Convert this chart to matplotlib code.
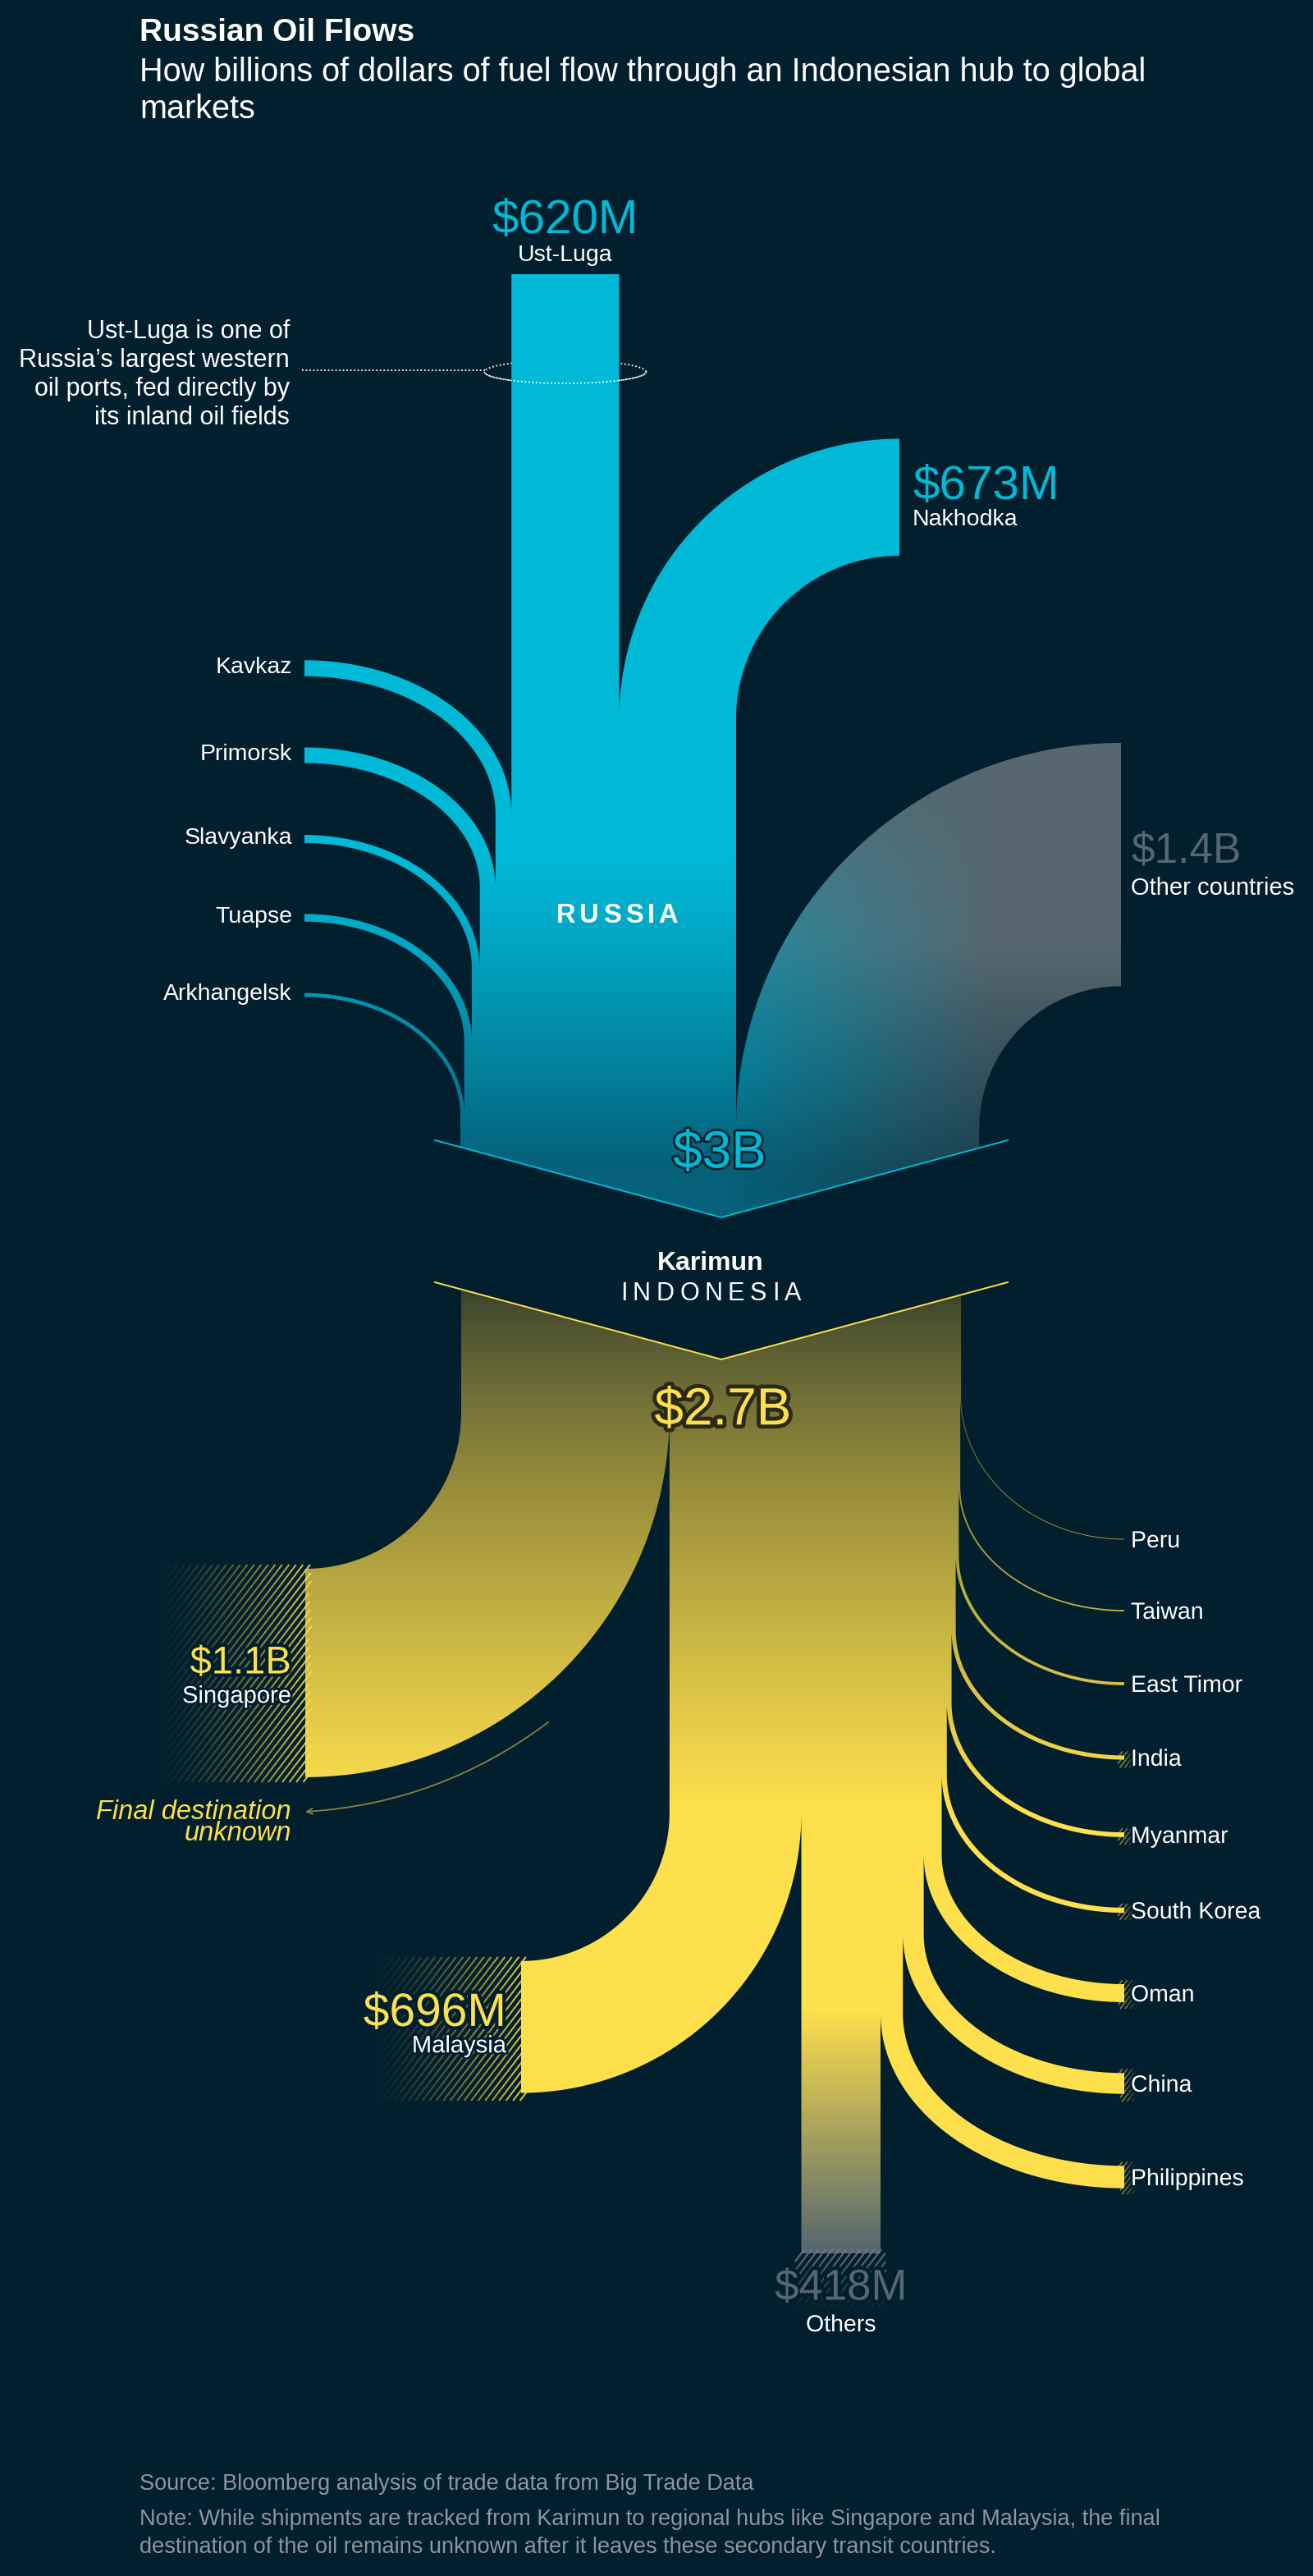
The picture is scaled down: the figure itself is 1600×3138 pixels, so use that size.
import numpy as np
import matplotlib
matplotlib.use("Agg")
import matplotlib.pyplot as plt
import matplotlib.colors as mcolors
import matplotlib.patheffects as pe
from matplotlib.path import Path
from matplotlib.patches import PathPatch, Ellipse, Arc, Rectangle
from matplotlib.collections import LineCollection
from matplotlib.font_manager import FontProperties
from matplotlib.textpath import TextToPath

plt.rcParams['font.family'] = ['Liberation Sans', 'DejaVu Sans']

# ---- data, $M ----
ust_luga = 620
nakhodka = 673
ports = ['Kavkaz', 'Primorsk', 'Slavyanka', 'Tuapse', 'Arkhangelsk']
port_values = [92, 90, 46, 44, 22]
other_countries = 1400
karimun_in = 3000
karimun_out = 2700

hubs = ['Singapore', 'Malaysia']
hub_values = [1100, 696]
others_value = 418
destinations = ['Peru', 'Taiwan', 'East Timor', 'India', 'Myanmar',
                'South Korea', 'Oman', 'China', 'Philippines']
dest_values = [4, 8, 16, 22, 25, 27, 95, 110, 118]

# ---- layout, pixels ----
W, H = 1600, 3138
BG = '#021f2e'
CYAN = '#00b9d7'
DEEP = '#05607a'
YELLOW = '#fedf4c'
OLIVE = '#1e2d28'
SLATE = '#56676f'
GREY = '#8d969c'

top_scale = 0.2117
bot_scale = 0.2308
trunk_left = 561
V_LEFT, V_MID, V_SIDE, V_TIP = 530, 879, 1389, 1483
DROP = 173

port_x = 371
port_y = [814, 920, 1022, 1118, 1212]
port_turn = [992, 1081, 1180, 1269, 1358]
ust_top = 334
nak_x, nak_turn = 1096, 876
oth_x, oth_turn = 1366, 1374
hub_x = [372, 635]
hub_turn = [1721, 2208]
others_end = 2745
dest_x = 1370
dest_y = [1875, 1962, 2051, 2141, 2235, 2327, 2428, 2538, 2652]
dest_turn = [1700, 1811, 1895, 1986, 2074, 2162, 2259, 2356, 2453]


def money(v):
    if v >= 1000:
        s = ('%.1f' % (v / 1000)).rstrip('0').rstrip('.')
        return '$' + s + 'B'
    return '$%dM' % v


def vee(x, drop):
    return V_TIP + drop - (V_TIP - V_SIDE) * abs(x - V_MID) / (V_MID - V_LEFT)


def vee_edge(xa, xb, drop):
    pts = [(xa, vee(xa, drop))]
    if min(xa, xb) < V_MID < max(xa, xb):
        pts.append((V_MID, vee(V_MID, drop)))
    pts.append((xb, vee(xb, drop)))
    return pts


def quarter(xv, y0, xe, yh, n=120):
    th = np.linspace(0, np.pi / 2, n)
    return list(zip(xe - (xe - xv) * np.cos(th), y0 + (yh - y0) * np.sin(th)))


def ribbon(xl, xr, y0, xe, yc, drop):
    w = xr - xl
    ya, yb = yc - w / 2, yc + w / 2
    near_y, far_y = (ya, yb) if abs(ya - y0) < abs(yb - y0) else (yb, ya)
    if abs(xe - xl) < abs(xe - xr):
        yl, yr = near_y, far_y
    else:
        yl, yr = far_y, near_y
    cl = quarter(xl, y0, xe, yl)
    cr = quarter(xr, y0, xe, yr)
    return cl[::-1] + [(xl, y0)] + vee_edge(xl, xr, drop) + [(xr, y0)] + cr


def bar(xl, xr, yend, drop):
    return [(xl, yend)] + vee_edge(xl, xr, drop) + [(xr, yend)]


def to_path(pts):
    p = np.array(pts)
    area = np.sum(p[:, 0] * np.roll(p[:, 1], -1) - np.roll(p[:, 0], -1) * p[:, 1])
    if area < 0:
        p = p[::-1]
    verts = np.vstack([p, p[:1]])
    codes = [Path.MOVETO] + [Path.LINETO] * (len(p) - 1) + [Path.CLOSEPOLY]
    return Path(verts, codes)


def rgb(c):
    return np.array(mcolors.to_rgb(c))


def mix(a, b, t):
    t = t[..., None]
    return a * (1 - t) + b * t


def grid(x0, x1, y0, y1):
    xs = np.arange(x0, x1) + 0.5
    ys = np.arange(y0, y1) + 0.5
    return np.meshgrid(xs, ys)


def fill(ax, paths, img, extent):
    comp = Path.make_compound_path(*paths)
    im = ax.imshow(img, extent=extent, origin='upper', interpolation='bilinear',
                   aspect='auto', zorder=1)
    im.set_clip_path(PathPatch(comp, transform=ax.transData))


def hatch(ax, x0, x1, y0, y1, color, alpha_of, step=8.5, slope=1.3, lw=1.5, seg=5.0):
    base = mcolors.to_rgb(color)
    segs, cols = [], []
    ys = np.arange(y0 - seg, y1 + 2 * seg, seg)
    for c in np.arange(y0 + slope * x0 - step * slope, y1 + slope * x1 + step * slope, step * slope):
        xs = (c - ys) / slope
        for k in range(len(ys) - 1):
            xm = (xs[k] + xs[k + 1]) / 2
            ym = (ys[k] + ys[k + 1]) / 2
            if xm < x0 - 6 or xm > x1 + 6:
                continue
            a = alpha_of(xm, ym)
            if a <= 0.01:
                continue
            segs.append([(xs[k], ys[k]), (xs[k + 1], ys[k + 1])])
            cols.append((base[0], base[1], base[2], a))
    lc = LineCollection(segs, colors=cols, linewidths=lw, zorder=2, capstyle='butt')
    lc.set_clip_path(Rectangle((x0, y0), x1 - x0, y1 - y0, transform=ax.transData))
    ax.add_collection(lc)


fig = plt.figure(figsize=(16, 31.38), dpi=100, facecolor=BG)
ax = fig.add_axes([0, 0, 1, 1])
ax.set_facecolor(BG)


def txt(x, y, s, size, **kw):
    # y is the visual centre of the capitals
    return ax.text(x, y + 0.35 * size * 100 / 72, s, fontsize=size, va='baseline', **kw)


def spaced(xc, y, s, size, track, **kw):
    fp = FontProperties(family='Liberation Sans', size=size, weight=kw.get('fontweight', 'normal'))
    ttp = TextToPath()
    ws = [ttp.get_text_width_height_descent(ch, fp, ismath=False)[0] * 100 / 72 for ch in s]
    total = sum(ws) + track * (len(s) - 1)
    x = xc - total / 2
    for ch, w in zip(s, ws):
        txt(x, y, ch, size, ha='left', **kw)
        x += w + track


glow = [pe.withStroke(linewidth=6, foreground=BG)]
soft = [pe.withStroke(linewidth=4, foreground=BG)]

# ---- top section: Russia and other countries ----
x = trunk_left
port_edges = [None] * len(ports)
for i in reversed(range(len(ports))):
    w = port_values[i] * top_scale
    port_edges[i] = (x, x + w)
    x += w
ust = (x, x + ust_luga * top_scale)
nak = (ust[1], ust[1] + nakhodka * top_scale)
oth = (nak[1], nak[1] + other_countries * top_scale)

russia_paths = []
for i in range(len(ports)):
    xl, xr = port_edges[i]
    russia_paths.append(to_path(ribbon(xl, xr, port_turn[i], port_x, port_y[i], 0)))
russia_paths.append(to_path(bar(ust[0], ust[1], ust_top, 0)))
w = nak[1] - nak[0]
nak_y = nak_turn - (nak_x - nak[1]) - w / 2
russia_paths.append(to_path(ribbon(nak[0], nak[1], nak_turn, nak_x, nak_y, 0)))

w = oth[1] - oth[0]
oth_y = oth_turn - (oth_x - oth[1]) - w / 2
oth_path = to_path(ribbon(oth[0], oth[1], oth_turn, oth_x, oth_y, 0))


def russia_colour(Y):
    t = np.clip((Y - 1040) / 380, 0, 1) ** 1.2
    return mix(rgb(CYAN), rgb(DEEP), t)


X, Y = grid(340, 1120, 320, 1495)
fill(ax, russia_paths, russia_colour(Y), (340, 1120, 1495, 320))

X, Y = grid(880, 1385, 880, 1495)
m = np.clip((1210 - X) / 330, 0, 1) * np.clip((Y - 930) / 380, 0, 1)
slate_y = mix(rgb(SLATE), rgb('#173b48'), np.clip((Y - 1150) / 300, 0, 1))
other_img = slate_y * (1 - m[..., None]) + russia_colour(Y) * m[..., None]
fill(ax, [oth_path], other_img, (880, 1385, 1495, 880))

ax.plot([V_LEFT, V_MID, 2 * V_MID - V_LEFT], [V_SIDE, V_TIP, V_SIDE], color=CYAN, lw=1.4, zorder=3)

# ---- bottom section: Karimun outflows ----
x = trunk_left + 1
hub_edges = []
for v in hub_values:
    hub_edges.append((x, x + v * bot_scale))
    x += v * bot_scale
oth_b = (x, x + others_value * bot_scale)
x = oth_b[1]
dest_edges = [None] * len(destinations)
for i in reversed(range(len(destinations))):
    w = dest_values[i] * bot_scale
    dest_edges[i] = (x, x + w)
    x += w

bottom_paths = []
hub_y = []
for i in range(len(hubs)):
    xl, xr = hub_edges[i]
    yc = hub_turn[i] + (xl - hub_x[i]) + (xr - xl) / 2
    hub_y.append(yc)
    bottom_paths.append(to_path(ribbon(xl, xr, hub_turn[i], hub_x[i], yc, DROP)))
bottom_paths.append(to_path(bar(oth_b[0], oth_b[1], others_end, DROP)))
for i in range(len(destinations)):
    xl, xr = dest_edges[i]
    bottom_paths.append(to_path(ribbon(xl, xr, dest_turn[i], dest_x, dest_y[i], DROP)))

X, Y = grid(360, 1395, 1550, 2760)
t = np.clip((Y - 1540) / 660, 0, 1) ** 0.7
bot_img = mix(rgb(OLIVE), rgb(YELLOW), t)
u = np.clip((Y - 2450) / 290, 0, 1) * ((X >= oth_b[0] - 1) & (X <= oth_b[1] + 1))
bot_img = mix(bot_img, rgb(SLATE), u)
fill(ax, bottom_paths, bot_img, (360, 1395, 2760, 1550))

ax.plot([V_LEFT, V_MID, 2 * V_MID - V_LEFT], [V_SIDE + DROP, V_TIP + DROP, V_SIDE + DROP],
        color=YELLOW, lw=1.4, zorder=3)

# hatched ends
for i in range(len(hubs)):
    xl, xr = hub_edges[i]
    w = xr - xl
    x1 = hub_x[i]
    x0 = x1 - 185
    hatch(ax, x0, x1, hub_y[i] - w / 2, hub_y[i] + w / 2, YELLOW,
          lambda xm, ym, a=x0, b=x1: 0.85 * np.clip((xm - a) / (b - a), 0, 1) ** 1.4)
hatch(ax, oth_b[0], oth_b[1], others_end, others_end + 70, '#6d7e87',
      lambda xm, ym: 0.9 * np.clip(1 - (ym - others_end) / 70, 0, 1))
for i in range(len(destinations)):
    xl, xr = dest_edges[i]
    w = xr - xl
    if w < 4:
        continue
    hatch(ax, dest_x, dest_x + 16, dest_y[i] - w / 2, dest_y[i] + w / 2, YELLOW,
          lambda xm, ym: 0.5 * np.clip(1 - (xm - dest_x) / 16, 0, 1), step=6, lw=1.2)

# ---- Ust-Luga note ----
ucx = (ust[0] + ust[1]) / 2
ax.add_patch(Ellipse((ucx, 453), 197, 28, fill=False, ec='white', lw=1.3,
                     ls=(0, (1, 1.5)), zorder=0.5))
ax.add_patch(Arc((ucx, 453), 197, 28, theta1=0, theta2=180, ec='white', lw=1.3,
                 ls=(0, (1, 1.5)), zorder=4))
ax.plot([368, ucx - 98], [451, 451], color='white', lw=1.3, ls=(0, (1, 1.5)), zorder=4)
note = ['Ust-Luga is one of', 'Russia\u2019s largest western',
        'oil ports, fed directly by', 'its inland oil fields']
for k, line in enumerate(note):
    txt(353, 401 + 35.2 * k, line, 22, ha='right', color='white', zorder=6)

# ---- labels ----
txt(170, 36, 'Russian Oil Flows', 28, fontweight='bold', color='white')
txt(170, 85, 'How billions of dollars of fuel flow through an Indonesian hub to global', 28.5, color='white')
txt(170, 130, 'markets', 28.5, color='white')

txt(ucx, 264, money(ust_luga), 42, ha='center', color=CYAN, zorder=6)
txt(ucx, 308, 'Ust-Luga', 20.5, ha='center', color='white', zorder=6)
txt(nak_x + 16, 588, money(nakhodka), 42, ha='left', color=CYAN, zorder=6)
txt(nak_x + 16, 630, 'Nakhodka', 20.5, ha='left', color='white', zorder=6)
txt(oth_x + 12, 1033, money(other_countries), 37, ha='left', color=SLATE, zorder=6)
txt(oth_x + 12, 1080, 'Other countries', 21, ha='left', color='white', zorder=6)
for i, name in enumerate(ports):
    txt(port_x - 15, port_y[i] - 4, name, 20.5, ha='right', color='white', zorder=6)

spaced(752, 1113, 'RUSSIA', 23.5, 5, fontweight='bold', color='white', zorder=6)
txt(V_MID - 2, 1400, money(karimun_in), 46, ha='center', color=CYAN, zorder=6,
    path_effects=[pe.withStroke(linewidth=4, foreground='#06222c')])
txt(866, 1536, 'Karimun', 23, ha='center', fontweight='bold', color='white', zorder=6)
spaced(866, 1573, 'INDONESIA', 22, 6.5, color='white', zorder=6)
txt(V_MID + 2, 1713, money(karimun_out), 46, ha='center', color=YELLOW, zorder=6,
    path_effects=[pe.withStroke(linewidth=7, foreground='#2a2a1a')])

label_right = [355, 617]
label_y = [2022, 2448]
label_size = [34, 41]
for i, name in enumerate(hubs):
    txt(label_right[i], label_y[i], money(hub_values[i]), label_size[i], ha='right', color=YELLOW,
        zorder=6, path_effects=glow)
    txt(label_right[i], label_y[i] + 42, name, 21, ha='right', color='white',
        zorder=6, path_effects=soft)

ocx = (oth_b[0] + oth_b[1]) / 2
txt(ocx, 2783, money(others_value), 38, ha='center', color=SLATE, zorder=6, path_effects=glow)
txt(ocx, 2830, 'Others', 20.5, ha='center', color='white', zorder=6, path_effects=soft)

for i, name in enumerate(destinations):
    txt(dest_x + 8, dest_y[i], name, 20.5, ha='left', color='white', zorder=6, path_effects=soft)

txt(355, 2205, 'Final destination', 23.5, ha='right', style='italic', color=YELLOW, zorder=6)
txt(355, 2231, 'unknown', 23.5, ha='right', style='italic', color=YELLOW, zorder=6)
ax.annotate('', xy=(372, 2207), xytext=(668, 2098),
            arrowprops=dict(arrowstyle='->,head_length=0.5,head_width=0.25', color='#a29440',
                            lw=1.3, alpha=0.85, connectionstyle='arc3,rad=-0.15',
                            shrinkA=0, shrinkB=0), zorder=4)

txt(170, 3024, 'Source: Bloomberg analysis of trade data from Big Trade Data', 19.5, color=GREY)
txt(170, 3067, 'Note: While shipments are tracked from Karimun to regional hubs like Singapore and Malaysia, the final', 19.5, color=GREY)
txt(170, 3101, 'destination of the oil remains unknown after it leaves these secondary transit countries.', 19.5, color=GREY)

ax.set_xlim(0, W)
ax.set_ylim(H, 0)
ax.axis('off')
fig.savefig('out.png', dpi=100, facecolor=BG)
